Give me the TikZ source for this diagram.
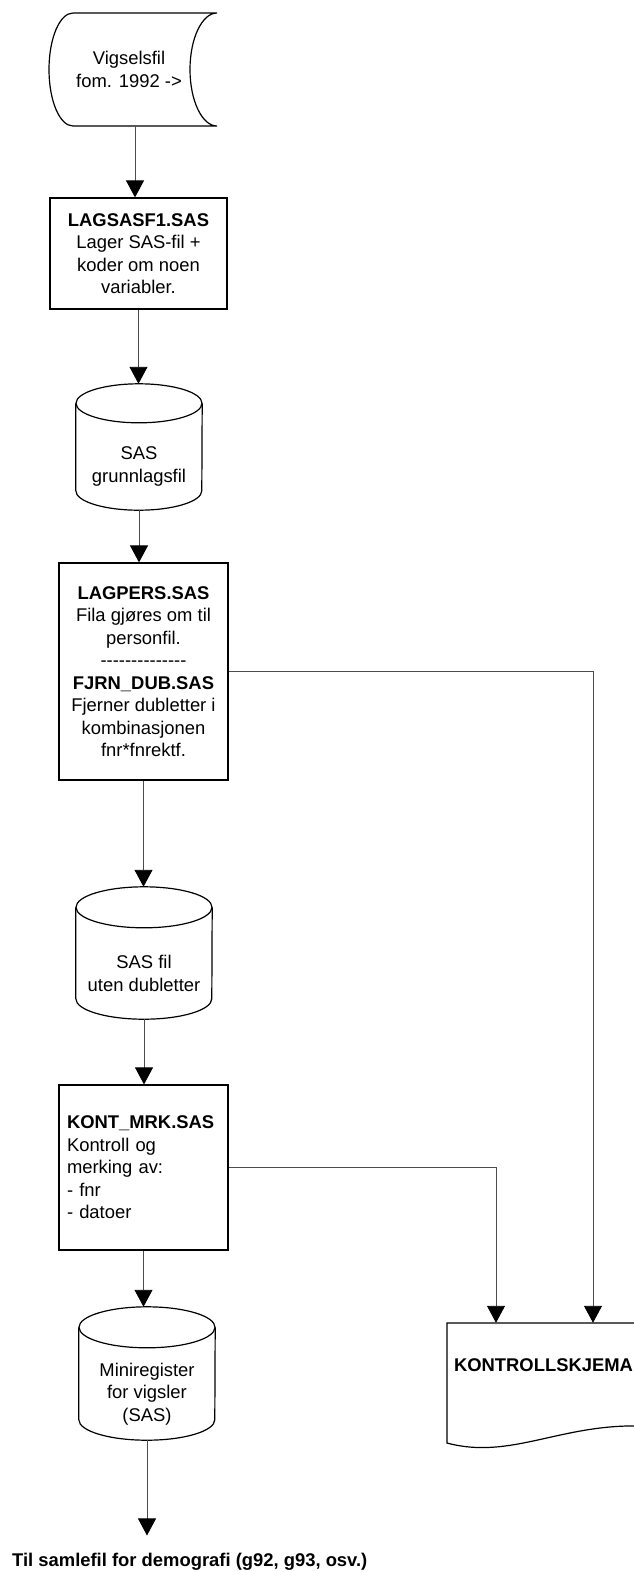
\documentclass[tikz,border=0pt]{standalone}
\usepackage{fontspec}
\setmainfont{Liberation Sans}
\usetikzlibrary{arrows.meta,calc}
\newcommand\dashrow{-{}-{}-{}-{}-{}-{}-{}-{}-{}-{}-{}-{}-{}-}
\begin{document}
\begin{tikzpicture}[x=1pt,y=-1pt,
  outline/.style={draw=black,line width=1.2pt},
  conn/.style={draw=black!70,line width=0.9pt},
  arr/.style={conn,-{Triangle[length=17pt,width=18pt,color=black]}},
  lbl/.style={font=\fontsize{18.4}{22.5}\selectfont,align=center,inner sep=0pt},
  blbl/.style={font=\fontsize{18.4}{22.5}\selectfont\bfseries,inner sep=0pt},
  procbox/.style={outline,lbl,rectangle},
]
\useasboundingbox (0,0) rectangle (633,1572);

% source file (stored data)
\node[lbl,minimum width=160pt,minimum height=113pt] (src) at (129,69.5) {Vigselsfil\\fom. 1992 ->};
\draw[outline] (73,13) -- (217,13)
  .. controls (202.1,13) and (190,38.3) .. (190,69.5)
  .. controls (190,100.7) and (202.1,126) .. (217,126)
  -- (73,126)
  .. controls (59.7,126) and (49,100.7) .. (49,69.5)
  .. controls (49,38.3) and (59.7,13) .. (73,13) -- cycle;

% process 1
\node[procbox,minimum width=177pt,minimum height=111pt] (b1) at (138.5,253.5)
  {\textbf{LAGSASF1.SAS}\\Lager SAS-fil +\\koder om noen\\variabler.};

% cylinder 1
\node[lbl,minimum width=126pt,minimum height=87pt] (c1) at (139,466.5) {SAS\\grunnlagsfil};
\draw[outline] ($(c1.north)+(0,-19.5)$) ellipse [x radius=63pt,y radius=19.5pt];
\draw[outline] ($(c1.north west)+(0,-19.5)$) -- ($(c1.south west)+(0,-19.5)$)
  arc[start angle=180,end angle=360,x radius=63pt,y radius=19.5pt]
  -- ($(c1.north east)+(0,-19.5)$);

% process 2
\node[procbox,minimum width=169pt,minimum height=217pt] (b2) at (143.5,671.5)
  {\textbf{LAGPERS.SAS}\\Fila gjøres om til\\personfil.\\\dashrow\\\textbf{FJRN\_DUB.SAS}\\Fjerner dubletter i\\kombinasjonen\\fnr*fnrektf.};

% cylinder 2
\node[lbl,minimum width=136pt,minimum height=91pt] (c2) at (144,973.5) {SAS fil\\uten dubletter};
\draw[outline] ($(c2.north)+(0,-20.5)$) ellipse [x radius=68pt,y radius=20.5pt];
\draw[outline] ($(c2.north west)+(0,-20.5)$) -- ($(c2.south west)+(0,-20.5)$)
  arc[start angle=180,end angle=360,x radius=68pt,y radius=20.5pt]
  -- ($(c2.north east)+(0,-20.5)$);

% process 3
\node[procbox,minimum width=169pt,minimum height=165pt,text width=153pt,align=left,inner xsep=8pt] (b3) at (143.5,1167.5)
  {\textbf{KONT\_MRK.SAS}\\Kontroll og\\merking av:\\- fnr\\- datoer};

% cylinder 3
\node[lbl,minimum width=136pt,minimum height=92pt] (c3) at (147,1394) {Miniregister\\for vigsler\\(SAS)};
\draw[outline] ($(c3.north)+(0,-20.5)$) ellipse [x radius=68pt,y radius=20.5pt];
\draw[outline] ($(c3.north west)+(0,-20.5)$) -- ($(c3.south west)+(0,-20.5)$)
  arc[start angle=180,end angle=360,x radius=68pt,y radius=20.5pt]
  -- ($(c3.north east)+(0,-20.5)$);

% document
\node[blbl,minimum width=193pt,minimum height=84pt] (doc) at (543.5,1365) {KONTROLLSKJEMA};
\draw[outline] (447,1323) -- (447,1443)
  .. controls (510,1460) and (560,1424) .. (640,1426)
  -- (640,1323) -- cycle;

% output text
\node[blbl,anchor=base west] (out) at (12,1566) {Til samlefil for demografi (g92, g93, osv.)};

% connectors
\path (src.south) ++(6,0) coordinate (srcout);
\draw[arr] (srcout) -- (srcout |- b1.north);
\draw[arr] (b1.south) -- ($(b1.south |- c1.north)+(0,-39)$);
\draw[arr] (c1.south) -- (c1.south |- b2.north);
\draw[arr] (b2.south) -- ($(b2.south |- c2.north)+(0,-41)$);
\draw[arr] (c2.south) -- (c2.south |- b3.north);
\draw[arr] (b3.south) -- ($(b3.south |- c3.north)+(0,-41)$);
\draw[arr] (c3.south) -- ($(c3.south |- out.north)+(0,-17)$);
\draw[arr] (b2.east) -| ($(doc.north)+(49.5,0)$);
\draw[arr] (b3.east) -| ($(doc.north)+(-47.5,0)$);
\end{tikzpicture}
\end{document}
